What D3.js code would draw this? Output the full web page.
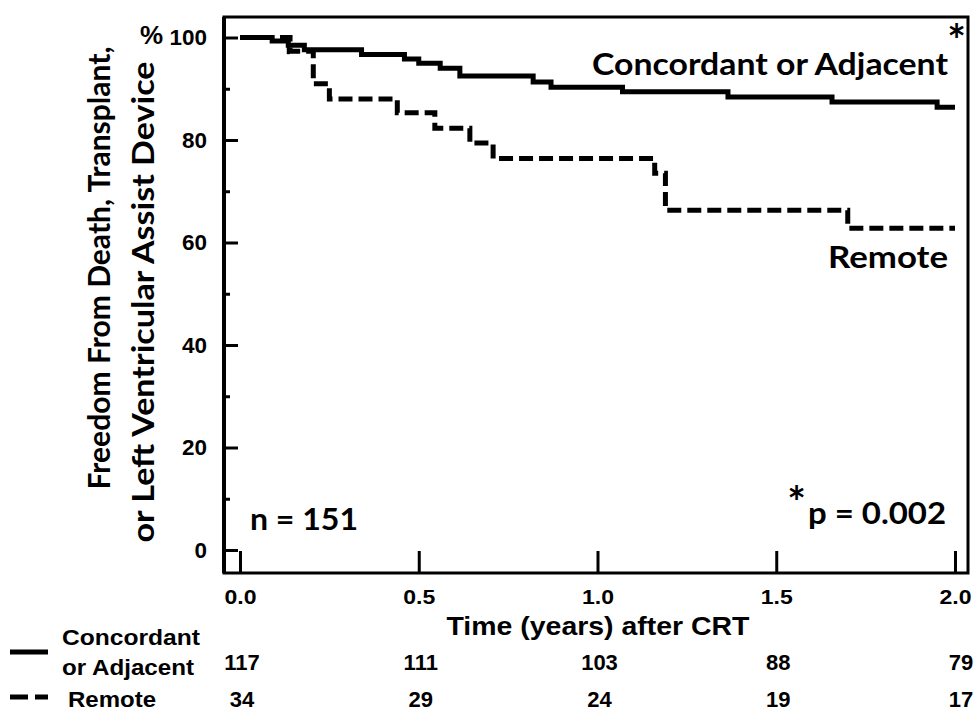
<!DOCTYPE html>
<html>
<head>
<meta charset="utf-8">
<script src="https://cdn.jsdelivr.net/npm/d3@7"></script>
<style>
  body { margin: 0; background: #fff; }
  svg { display: block; }
  .tick text { font-family: "Liberation Sans", Arial, sans-serif; font-weight: bold; }
</style>
</head>
<body>
<div id="chart"></div>
<script>
// Kaplan-Meier steps: [time (years), freedom %]
const concordant = [
  [0, 100], [0.09, 99.3], [0.135, 98.5], [0.18, 97.6], [0.34, 96.7], [0.46, 95.8],
  [0.5, 95.0], [0.56, 94.0], [0.615, 92.5], [0.82, 91.3], [0.87, 90.3], [1.07, 89.4],
  [1.365, 88.4], [1.656, 87.4], [1.95, 86.4], [2.0, 86.4]
];
const remote = [
  [0, 100], [0.14, 97.3], [0.205, 91.0], [0.25, 88.0], [0.44, 85.3], [0.545, 82.3],
  [0.643, 79.4], [0.708, 76.4], [1.16, 73.5], [1.19, 66.3], [1.70, 62.8], [2.0, 62.8]
];
const censorMarks = [[0.135, 98.5]];

const timeTicks = [0, 0.5, 1, 1.5, 2];
const pctTicks = [0, 20, 40, 60, 80, 100];
const pctMinorTicks = [10, 30, 50, 70, 90];
const atRiskConcordant = [117, 111, 103, 88, 79];
const atRiskRemote = [34, 29, 24, 19, 17];

const width = 978, height = 711;
const frame = {left: 224, top: 17, right: 968, bottom: 573};
const calibri = "Lato, 'Open Sans', sans-serif";
const arial = "'Liberation Sans', Arial, sans-serif";

const svg = d3.select("#chart").append("svg").attr("width", width).attr("height", height);

const x = d3.scaleLinear([0, 2], [240, 955]);
const y = d3.scaleLinear([0, 100], [550, 37.5]);

// frame
svg.append("rect")
  .attr("x", frame.left).attr("y", frame.top)
  .attr("width", frame.right - frame.left).attr("height", frame.bottom - frame.top)
  .attr("fill", "none").attr("stroke", "#000").attr("stroke-width", 3);
svg.append("line")
  .attr("x1", frame.left).attr("x2", frame.left)
  .attr("y1", frame.top).attr("y2", frame.bottom)
  .attr("stroke", "#000").attr("stroke-width", 4);

// y axis (ticks point inwards)
const yAxis = svg.append("g")
  .attr("transform", `translate(${frame.left},0)`)
  .call(d3.axisLeft(y).tickValues(pctTicks).tickSizeInner(-14).tickSizeOuter(0).tickPadding(17));
yAxis.select(".domain").remove();
yAxis.selectAll(".tick line").attr("stroke-width", 3);
yAxis.selectAll(".tick text").attr("font-size", 22).attr("fill", "#000")
  .attr("textLength", (d) => String(d).length * 12.5).attr("lengthAdjust", "spacingAndGlyphs");

const yMinor = svg.append("g")
  .attr("transform", `translate(${frame.left},0)`)
  .call(d3.axisLeft(y).tickValues(pctMinorTicks).tickSizeInner(-6).tickSizeOuter(0).tickFormat(""));
yMinor.select(".domain").remove();
yMinor.selectAll(".tick line").attr("stroke-width", 3);

svg.append("text")
  .attr("x", 163).attr("y", y(100) + 6)
  .attr("text-anchor", "end")
  .attr("font-family", arial).attr("font-weight", "bold").attr("font-size", 26)
  .text("%");

// x axis
const xAxis = svg.append("g")
  .attr("transform", `translate(0,${frame.bottom})`)
  .call(d3.axisBottom(x).tickValues(timeTicks).tickFormat(d3.format(".1f"))
    .tickSizeInner(-22).tickSizeOuter(0).tickPadding(17));
xAxis.select(".domain").remove();
xAxis.selectAll(".tick line").attr("stroke-width", 3);
xAxis.selectAll(".tick text").attr("font-size", 20).attr("fill", "#000")
  .attr("textLength", 32).attr("lengthAdjust", "spacingAndGlyphs");

svg.append("text")
  .attr("x", 598).attr("y", 635)
  .attr("text-anchor", "middle")
  .attr("font-family", arial).attr("font-weight", "bold").attr("font-size", 25)
  .attr("textLength", 303).attr("lengthAdjust", "spacingAndGlyphs")
  .text("Time (years) after CRT");

// y title
const yTitle = [
  {text: "Freedom From Death, Transplant,", x: 110, cy: 268, len: 443},
  {text: "or Left Ventricular Assist Device", x: 154, cy: 302, len: 481}
];
svg.selectAll(".ytitle").data(yTitle).join("text")
  .attr("class", "ytitle")
  .attr("transform", (d) => `translate(${d.x},${d.cy}) rotate(-90)`)
  .attr("text-anchor", "middle")
  .attr("font-family", calibri).attr("font-weight", "bold").attr("font-size", 31)
  .attr("textLength", (d) => d.len).attr("lengthAdjust", "spacingAndGlyphs")
  .text((d) => d.text);

// curves
const line = d3.line().x((d) => x(d[0])).y((d) => y(d[1])).curve(d3.curveStepAfter);
svg.append("path").datum(concordant)
  .attr("d", line).attr("fill", "none").attr("stroke", "#000").attr("stroke-width", 5);
svg.append("path").datum(remote)
  .attr("d", line).attr("fill", "none").attr("stroke", "#000").attr("stroke-width", 5)
  .attr("stroke-dasharray", "14,6");
svg.selectAll(".censor").data(censorMarks).join("line")
  .attr("class", "censor")
  .attr("x1", (d) => x(d[0])).attr("x2", (d) => x(d[0]))
  .attr("y1", (d) => y(d[1]) - 9).attr("y2", (d) => y(d[1]) + 9)
  .attr("stroke", "#000").attr("stroke-width", 3);

// annotations
const big = (sel) => sel.attr("font-family", calibri).attr("font-weight", "bold").attr("font-size", 30);
svg.append("text").call(big)
  .attr("x", 948).attr("y", 75).attr("text-anchor", "end")
  .attr("textLength", 356).attr("lengthAdjust", "spacingAndGlyphs")
  .text("Concordant or Adjacent");
svg.append("text").call(big)
  .attr("x", 948).attr("y", 268).attr("text-anchor", "end")
  .attr("textLength", 120).attr("lengthAdjust", "spacingAndGlyphs")
  .text("Remote");
svg.append("text").call(big)
  .attr("x", 250).attr("y", 530)
  .attr("textLength", 108).attr("lengthAdjust", "spacingAndGlyphs")
  .text("n = 151");
svg.append("text").call(big)
  .attr("x", 946).attr("y", 524).attr("text-anchor", "end")
  .attr("textLength", 138).attr("lengthAdjust", "spacingAndGlyphs")
  .text("p = 0.002");
svg.append("text").call(big).attr("font-size", 44)
  .attr("x", 966).attr("y", 56).attr("text-anchor", "end").text("*");
svg.append("text").call(big).attr("font-size", 44)
  .attr("x", 806).attr("y", 518).attr("text-anchor", "end").text("*");

// number at risk table
const tableFont = (sel) => sel.attr("font-family", arial).attr("font-weight", "bold").attr("font-size", 22);
svg.append("text").call(tableFont).attr("x", 62).attr("y", 645)
  .attr("textLength", 138).attr("lengthAdjust", "spacingAndGlyphs").text("Concordant");
svg.append("text").call(tableFont).attr("x", 62).attr("y", 675)
  .attr("textLength", 132).attr("lengthAdjust", "spacingAndGlyphs").text("or Adjacent");
svg.append("text").call(tableFont).attr("x", 68).attr("y", 707)
  .attr("textLength", 88).attr("lengthAdjust", "spacingAndGlyphs").text("Remote");

svg.selectAll(".riskC").data(atRiskConcordant).join("text")
  .attr("class", "riskC").call(tableFont)
  .attr("x", (d, i) => x(timeTicks[i]) + (i === 4 ? 6 : 2)).attr("y", 670)
  .attr("text-anchor", "middle").text((d) => d);
svg.selectAll(".riskR").data(atRiskRemote).join("text")
  .attr("class", "riskR").call(tableFont)
  .attr("x", (d, i) => x(timeTicks[i]) + (i === 4 ? 6 : 2)).attr("y", 707)
  .attr("text-anchor", "middle").text((d) => d);

// legend swatches
svg.append("line").attr("x1", 10).attr("x2", 48).attr("y1", 652).attr("y2", 652)
  .attr("stroke", "#000").attr("stroke-width", 5);
svg.append("line").attr("x1", 10).attr("x2", 48).attr("y1", 697).attr("y2", 697)
  .attr("stroke", "#000").attr("stroke-width", 5).attr("stroke-dasharray", "18,7");
</script>
</body>
</html>
